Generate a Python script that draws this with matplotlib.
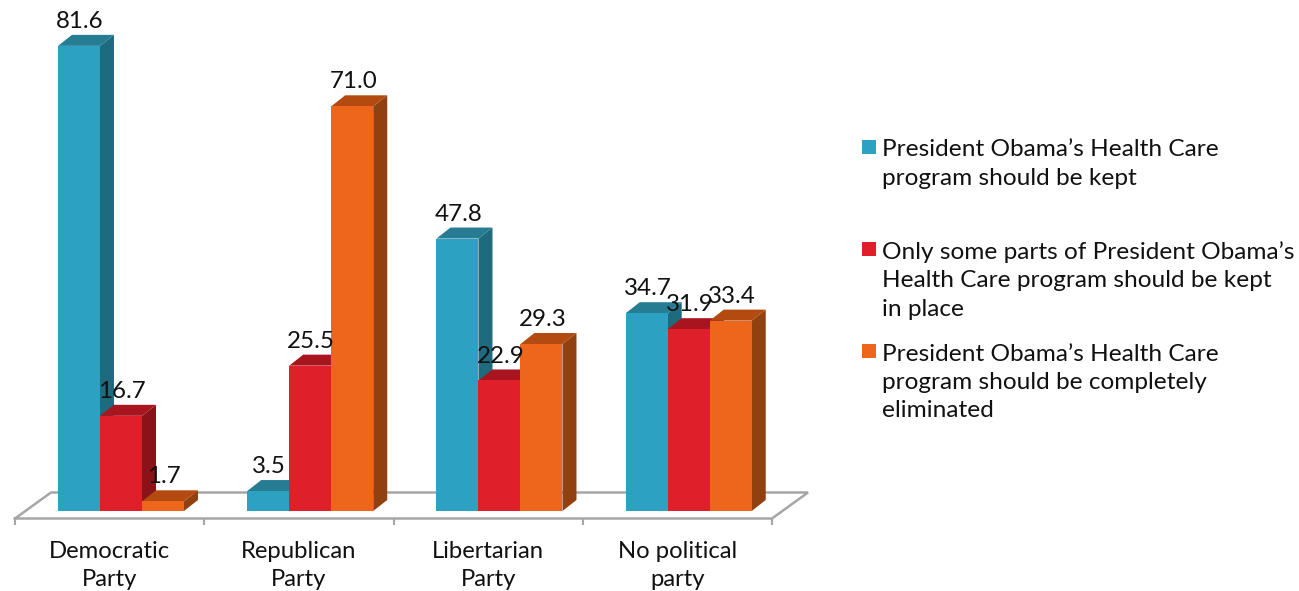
import matplotlib
matplotlib.use("Agg")
import matplotlib.pyplot as plt
from matplotlib.patches import Polygon, Rectangle

plt.rcParams['font.family'] = ['Lato', 'DejaVu Sans']

categories = ["Democratic\nParty", "Republican\nParty", "Libertarian\nParty", "No political\nparty"]
kept = [81.6, 3.5, 47.8, 34.7]
some_parts = [16.7, 25.5, 22.9, 31.9]
eliminated = [1.7, 71.0, 29.3, 33.4]

legend_labels = ["President Obama’s Health Care\nprogram should be kept",
                 "Only some parts of President Obama’s\nHealth Care program should be kept\nin place",
                 "President Obama’s Health Care\nprogram should be completely\neliminated"]

W, H = 1299, 591
# scale of the picture
px_cat = 189.25
px_val = 5.70
x0_px = 15
y0_px = 511
bar_w = 42 / px_cat
dx = 14 / px_cat
dy = 11 / px_val

front = ["#2CA1C1", "#DF1F2A", "#ED661B"]
top = ["#267D93", "#A8151F", "#B34B10"]
side = ["#1E6A7F", "#8B1219", "#91400F"]
series = [kept, some_parts, eliminated]

fig = plt.figure(figsize=(W / 100, H / 100), dpi=100)
ax = fig.add_axes([0, 0, 1, 1])
ax.set_xlim(-x0_px / px_cat, (W - x0_px) / px_cat)
ax.set_ylim(-(H - y0_px) / px_val, y0_px / px_val)
ax.axis("off")

# floor
n = len(categories)
fl_y = -7.5 / px_val
fl_dx = 36 / px_cat
fl_dy = 26 / px_val
grey = "#A6A6A6"
ax.plot([0, n, n + fl_dx, fl_dx, 0], [fl_y, fl_y, fl_y + fl_dy, fl_y + fl_dy, fl_y],
        color=grey, lw=1.8, zorder=1, solid_joinstyle="miter")
ax.vlines(range(n + 1), fl_y - 6 / px_val, fl_y, color=grey, lw=1.5, zorder=1)

# bars, left to right so that each one covers the side of the one before
z = 2
for i in range(n):
    left = i + 0.56 - 1.5 * bar_w
    for s in range(3):
        v = series[s][i]
        l = left + s * bar_w
        r = l + bar_w
        ax.add_patch(Polygon([(r, 0), (r + dx, dy), (r + dx, v + dy), (r, v)], color=side[s], lw=0, zorder=z))
        ax.add_patch(Polygon([(l, v), (l + dx, v + dy), (r + dx, v + dy), (r, v)], color=top[s], lw=0, zorder=z))
        ax.bar(l, v, width=bar_w, align="edge", color=front[s], lw=0, zorder=z + 0.5)
        z += 1

# value labels go on top of everything
for i in range(n):
    left = i + 0.56 - 1.5 * bar_w
    for s in range(3):
        v = series[s][i]
        ax.annotate(f"{v:.1f}", (left + (s + 0.5) * bar_w, v), xytext=(0.7, 17.6),
                    textcoords="offset points", ha="center", va="center",
                    fontsize=17.4, color="#111111", zorder=100)

# category labels
for i in range(n):
    ax.text(i + 0.5, -(565.5 - y0_px) / px_val, categories[i], ha="center", va="center",
            fontsize=17.2, color="#111111", linespacing=1.42)

# legend
swatch_y = [147, 249, 351]
text_y = [164, 280.5, 382.5]
for i in range(3):
    fig.add_artist(Rectangle((862 / W, 1 - (swatch_y[i] + 7) / H), 14 / W, 14 / H, color=front[i],
                             lw=0, transform=fig.transFigure))
    fig.text(882 / W, 1 - text_y[i] / H, legend_labels[i], ha="left", va="center",
             fontsize=17.6, color="#111111", linespacing=1.42)

fig.savefig("out.png", dpi=100)
